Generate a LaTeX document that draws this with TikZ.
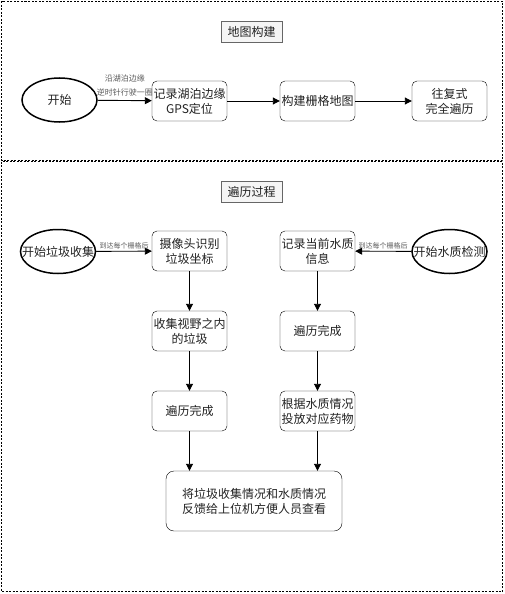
\documentclass[tikz,border=0pt]{standalone}
\usepackage{fontspec}
\newfontfamily\cjk{Noto Sans CJK SC}
\usetikzlibrary{arrows.meta,shapes.geometric}
\definecolor{TextClr}{RGB}{34,34,34}
\definecolor{NoteClr}{RGB}{90,90,90}
\definecolor{TitleFillClr}{RGB}{245,245,245}
\definecolor{TitleDrawClr}{RGB}{102,102,102}

\begin{document}
\begin{tikzpicture}[x=1pt,y=-1pt,
  box/.style={draw,rounded corners=5pt,minimum width=75pt,minimum height=40pt,
    inner sep=0pt,align=center,text=TextClr,font=\cjk\fontsize{12}{15}\selectfont},
  startnode/.style={draw,line width=1.5pt,ellipse,minimum width=75pt,minimum height=44pt,
    inner sep=0pt,text=TextClr,font=\cjk\fontsize{12}{15}\selectfont},
  widestart/.style={startnode,inner xsep=-9.5pt,inner ysep=0pt},
  titlebox/.style={draw=TitleDrawClr,fill=TitleFillClr,minimum width=61pt,minimum height=21pt,
    inner sep=0pt,text=TextClr,font=\cjk\fontsize{12}{15}\selectfont},
  note/.style={text=NoteClr,inner sep=0pt,align=center},
  flow/.style={-{Triangle[length=7pt,width=7pt]},line width=0.9pt},
  panel/.style={draw,line width=0.8pt,dash pattern=on 2pt off 1.5pt}]
\useasboundingbox (0,0) rectangle (504,594);

% panels
\draw[panel] (1.5,1.5) rectangle (502.5,160.5);
\draw[panel] (1.5,161.5) rectangle (502.5,591.5);

% map building
\node[titlebox] (mapT) at (251.5,32) {地图构建};
\node[startnode] (mapS) at (59.5,100) {开始};
\node[box] (gps) at (189.5,101) {记录湖泊边缘\\GPS定位};
\node[box] (grid) at (317.5,101) {构建栅格地图};
\node[box] (sweep) at (449.5,101) {往复式\\完全遍历};

\draw[flow] (mapS) -- (gps)
  node[note,midway,above=4pt,font=\cjk\fontsize{8}{14}\selectfont] {沿湖泊边缘\\逆时针行驶一圈};
\draw[flow] (gps) -- (grid);
\draw[flow] (grid) -- (sweep);

% traversal
\node[titlebox] (walkT) at (251.5,192) {遍历过程};
\node[widestart] (trashS) at (58,251.5) {开始垃圾收集};
\node[box] (cam) at (189.5,251) {摄像头识别\\垃圾坐标};
\node[box] (pick) at (189.5,331) {收集视野之内\\的垃圾};
\node[box] (doneL) at (189.5,411) {遍历完成};
\node[widestart] (waterS) at (449.5,251.5) {开始水质检测};
\node[box] (rec) at (317.5,251) {记录当前水质\\信息};
\node[box] (doneR) at (317.5,331) {遍历完成};
\node[box] (dose) at (317.5,411) {根据水质情况\\投放对应药物};
\node[box,minimum width=176pt,minimum height=60pt,rounded corners=8pt] (report) at (254,501)
  {将垃圾收集情况和水质情况\\反馈给上位机方便人员查看};

\draw[flow] (trashS) -- (cam)
  node[note,midway,above=2pt,font=\cjk\fontsize{7}{8}\selectfont] {到达每个栅格后};
\draw[flow] (waterS) -- (rec)
  node[note,midway,above=2pt,font=\cjk\fontsize{7}{8}\selectfont] {到达每个栅格后};
\draw[flow] (cam) -- (pick);
\draw[flow] (pick) -- (doneL);
\draw[flow] (doneL) -- (doneL|-report.north);
\draw[flow] (rec) -- (doneR);
\draw[flow] (doneR) -- (dose);
\draw[flow] (dose) -- (dose|-report.north);

\end{tikzpicture}
\end{document}
